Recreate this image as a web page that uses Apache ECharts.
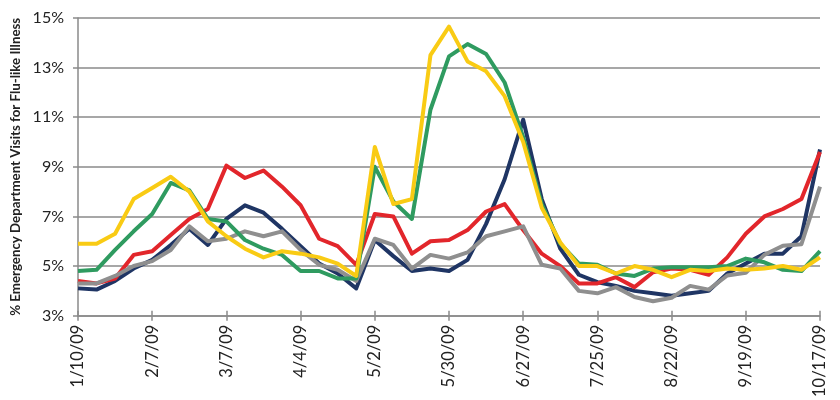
<!DOCTYPE html>
<html>
<head>
<meta charset="utf-8">
<script src="https://cdn.jsdelivr.net/npm/echarts@6/dist/echarts.min.js"></script>
<style>
html,body{margin:0;padding:0;background:#fff;}
#chart{width:840px;height:400px;}
</style>
</head>
<body>
<div id="chart"></div>
<script>
var weeks = ['1/10/09','1/17/09','1/24/09','1/31/09','2/7/09','2/14/09','2/21/09','2/28/09','3/7/09','3/14/09','3/21/09','3/28/09','4/4/09','4/11/09','4/18/09','4/25/09','5/2/09','5/9/09','5/16/09','5/23/09','5/30/09','6/6/09','6/13/09','6/20/09','6/27/09','7/4/09','7/11/09','7/18/09','7/25/09','8/1/09','8/8/09','8/15/09','8/22/09','8/29/09','9/5/09','9/12/09','9/19/09','9/26/09','10/3/09','10/10/09','10/17/09'];

var navySeries = [4.1,4.05,4.4,4.9,5.25,5.85,6.5,5.85,6.9,7.45,7.15,6.5,5.8,5.1,4.7,4.1,6.05,5.4,4.8,4.9,4.8,5.25,6.7,8.5,10.9,7.7,5.7,4.65,4.35,4.2,4.0,3.9,3.8,3.9,4.0,4.7,5.1,5.5,5.5,6.2,9.7];
var redSeries = [4.4,4.3,4.5,5.45,5.6,6.25,6.9,7.3,9.05,8.55,8.85,8.2,7.45,6.1,5.8,5.05,7.1,7.0,5.5,6.0,6.05,6.45,7.2,7.5,6.45,5.5,5.0,4.3,4.3,4.55,4.15,4.75,4.9,4.85,4.65,5.35,6.3,7.0,7.3,7.7,9.6];
var graySeries = [4.3,4.3,4.6,5.0,5.2,5.65,6.6,6.0,6.1,6.4,6.2,6.4,5.65,5.05,4.85,4.4,6.1,5.85,4.9,5.45,5.3,5.55,6.2,6.4,6.6,5.05,4.9,4.0,3.9,4.15,3.75,3.58,3.72,4.2,4.05,4.62,4.73,5.45,5.82,5.88,8.2];
var greenSeries = [4.8,4.85,5.65,6.4,7.1,8.35,8.05,6.9,6.8,6.05,5.7,5.45,4.8,4.8,4.5,4.5,9.0,7.6,6.9,11.3,13.45,13.95,13.55,12.4,10.2,7.5,5.9,5.1,5.05,4.7,4.6,4.9,4.95,4.95,4.95,5.0,5.3,5.15,4.85,4.8,5.6];
var yellowSeries = [5.9,5.9,6.3,7.7,8.15,8.6,8.0,6.8,6.2,5.7,5.35,5.6,5.5,5.35,5.1,4.6,9.8,7.5,7.7,13.5,14.65,13.25,12.85,11.85,10.0,7.35,5.95,5.0,5.0,4.7,5.0,4.85,4.55,4.85,4.8,4.9,4.85,4.9,5.0,4.85,5.35];

var yTitle = '% Emergency Department Visits for Flu-like Illness';

var chart = echarts.init(document.getElementById('chart'), null, {renderer:'canvas'});
var axisGray = '#8a8a8a';
var font = 'Lato, "Open Sans", sans-serif';

function lineSeries(name, data, color){
  return {
    name: name, type: 'line', data: data, xAxisIndex: 0,
    symbol: 'none', smooth: false,
    lineStyle: {color: color, width: 4, join: 'round'},
    itemStyle: {color: color},
    animation: false
  };
}

chart.setOption({
  animation: false,
  grid: {left: 78, right: 20, top: 18, bottom: 80, containLabel: false},
  xAxis: [{
    type: 'category', data: weeks, boundaryGap: false,
    axisLine: {lineStyle: {color: axisGray, width: 1.5}},
    axisTick: {show: true, interval: 3, length: 5, lineStyle: {color: axisGray, width: 1.5}},
    axisLabel: {interval: 3, rotate: 90, margin: 9, color: '#222', fontFamily: font, fontSize: 16.5},
    splitLine: {show: false}
  },{
    type: 'category', data: weeks, boundaryGap: false, position: 'bottom',
    axisLine: {show: false},
    axisTick: {show: true, inside: true, interval: 3, length: 5, lineStyle: {color: axisGray, width: 1.5}},
    axisLabel: {show: false},
    splitLine: {show: false}
  }],
  yAxis: {
    type: 'value', min: 3, max: 15, interval: 2,
    name: yTitle, nameLocation: 'middle', nameGap: 56, nameRotate: 90,
    nameTextStyle: {fontFamily: font, fontWeight: 'bold', fontSize: 13.3, color: '#222'},
    axisLine: {show: true, lineStyle: {color: axisGray, width: 1.5}},
    axisTick: {show: true, length: 5, lineStyle: {color: axisGray, width: 1.5}},
    axisLabel: {formatter: '{value}%', margin: 14, color: '#222', fontFamily: font, fontSize: 16},
    splitLine: {show: true, lineStyle: {color: axisGray, width: 1.5}}
  },
  series: [
    lineSeries('Navy', navySeries, '#1f3564'),
    lineSeries('Red', redSeries, '#e2262b'),
    lineSeries('Gray', graySeries, '#8f8f8f'),
    lineSeries('Green', greenSeries, '#2f9b60'),
    lineSeries('Yellow', yellowSeries, '#f9cb14')
  ]
});
</script>
</body>
</html>
